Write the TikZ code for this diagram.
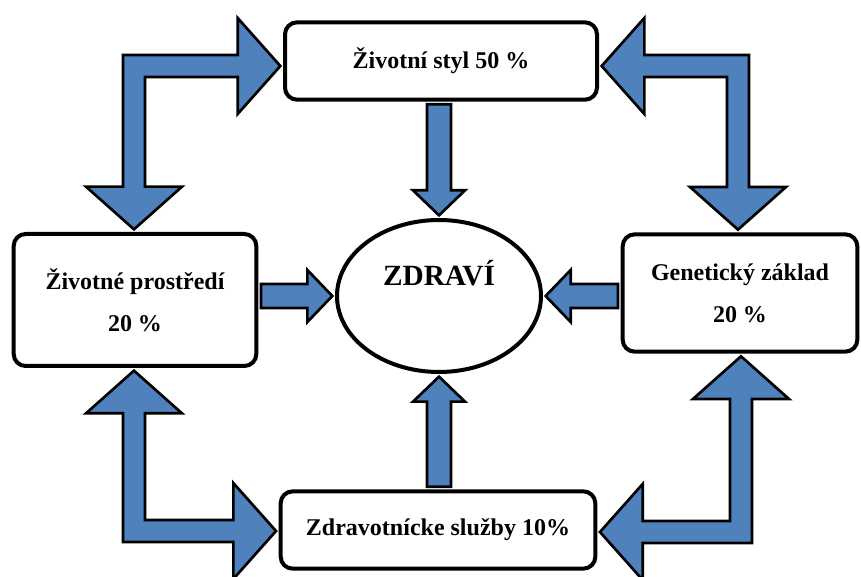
\documentclass[tikz,border=0pt]{standalone}
\usepackage{fontspec}
\setmainfont{Liberation Serif}
\usetikzlibrary{calc,shapes.geometric}

\definecolor{arrowblue}{RGB}{79,129,189}

\tikzset{
  factor/.style={draw,line width=3pt,rounded corners=9pt,fill=white,align=center,
    outer sep=3.5pt,font=\bfseries\fontsize{18}{31.5}\selectfont},
  blockarrow/.style={fill=arrowblue,draw=black,line width=2pt,line join=miter},
}

% straight block arrow: from, to
\newcommand\blockarrow[2]{%
  \draw[blockarrow] let \p1=#1, \p2=#2,
      \n1={sign(\x2-\x1)}, \n2={sign(\y2-\y1)} in
    ({\x1-(\n2)*9pt},{\y1+(\n1)*9pt})
    -- ({\x2-(\n1)*18.75pt-(\n2)*9pt},{\y2-(\n2)*18.75pt+(\n1)*9pt})
    -- ({\x2-(\n1)*18.75pt-(\n2)*19.5pt},{\y2-(\n2)*18.75pt+(\n1)*19.5pt})
    -- (\p2)
    -- ({\x2-(\n1)*18.75pt+(\n2)*19.5pt},{\y2-(\n2)*18.75pt-(\n1)*19.5pt})
    -- ({\x2-(\n1)*18.75pt+(\n2)*9pt},{\y2-(\n2)*18.75pt-(\n1)*9pt})
    -- ({\x1+(\n2)*9pt},{\y1-(\n1)*9pt}) -- cycle;}

% bent double block arrow: tip A, corner, tip B
\newcommand\bentarrow[3]{%
  \draw[blockarrow] let \p1=#1, \p2=#2, \p3=#3,
      \n1={sign(\x1-\x2)}, \n2={sign(\y3-\y2)} in
    (\p1)
    -- ({\x1-(\n1)*32pt},{\y2+(\n2)*36pt})
    -- ({\x1-(\n1)*32pt},{\y2+(\n2)*8.25pt})
    -- ({\x2+(\n1)*8.25pt},{\y2+(\n2)*8.25pt})
    -- ({\x2+(\n1)*8.25pt},{\y3-(\n2)*32pt})
    -- ({\x2+(\n1)*36pt},{\y3-(\n2)*32pt})
    -- (\p3)
    -- ({\x2-(\n1)*36pt},{\y3-(\n2)*32pt})
    -- ({\x2-(\n1)*8.25pt},{\y3-(\n2)*32pt})
    -- ({\x2-(\n1)*8.25pt},{\y2-(\n2)*8.25pt})
    -- ({\x1-(\n1)*32pt},{\y2-(\n2)*8.25pt})
    -- ({\x1-(\n1)*32pt},{\y2-(\n2)*36pt})
    -- cycle;}

\begin{document}
\begin{tikzpicture}[x=0.75pt,y=-0.75pt]
\useasboundingbox (0,0) rectangle (861,577);
% factors
\node[factor,minimum width=234pt,minimum height=58pt] (life) at (441,61) {Životní styl 50 \%};
\node[factor,minimum width=182pt,minimum height=99pt] (env) at (135,300) {Životné prostředí\\20 \%};
\node[factor,minimum width=176pt,minimum height=88pt] (gen) at (740,293) {Genetický základ\\20 \%};
\node[factor,minimum width=236pt,minimum height=58pt] (care) at (438,530) {Zdravotnícke služby 10\%};
\node[ellipse,draw,line width=3pt,outer sep=3.5pt,minimum width=153pt,minimum height=114pt] (health) at (439,296) {};
\node[font=\bfseries\fontsize{22}{26}\selectfont] (healthtext) at ([yshift=17pt]health.center) {ZDRAVÍ};
% corners of the bent arrows
\coordinate (tl) at (134,66);
\coordinate (tr) at (738,66);
\coordinate (bl) at (134,531);
\coordinate (br) at (741,532);
\bentarrow{(tl -| life.west)}{(tl)}{(tl |- env.north)}
\bentarrow{(tr -| life.east)}{(tr)}{(tr |- gen.north)}
\bentarrow{(bl -| care.west)}{(bl)}{(bl |- env.south)}
\bentarrow{(br -| care.east)}{(br)}{(br |- gen.south)}
% into the centre
\blockarrow{(health.north |- life.south)}{(health.north)}
\blockarrow{(health.south |- care.north)}{(health.south)}
\blockarrow{(health.west -| env.east)}{(health.west)}
\blockarrow{(health.east -| gen.west)}{(health.east)}
\end{tikzpicture}
\end{document}
